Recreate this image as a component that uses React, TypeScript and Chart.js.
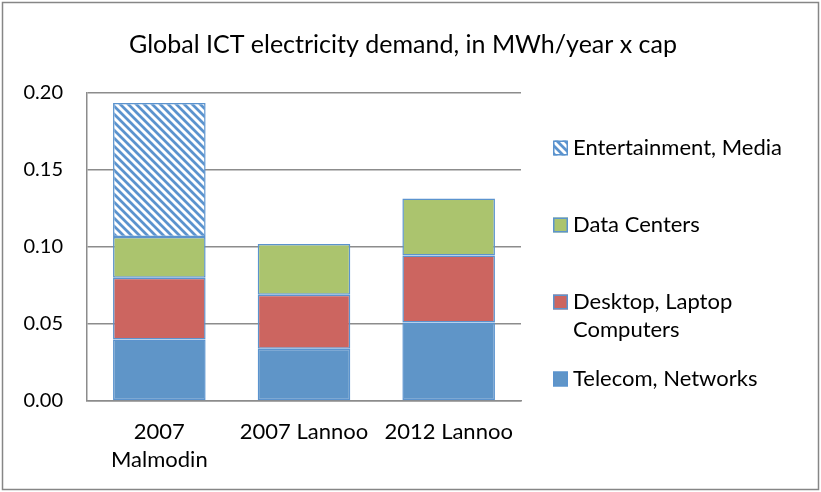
import { useEffect, useRef } from "react";
import { Chart, registerables } from "chart.js";

Chart.register(...registerables);

const titleText = "Global ICT electricity demand, in MWh/year x cap";
const categories: (string | string[])[] = [["2007", "Malmodin"], "2007 Lannoo", "2012 Lannoo"];
const telecomNetworks = [0.04, 0.034, 0.051];
const desktopLaptop = [0.04, 0.035, 0.0435];
const dataCenters = [0.0265, 0.033, 0.037];
const entertainmentMedia = [0.087, null, null];
const seriesLabels = [
  ["Telecom, Networks"],
  ["Desktop, Laptop", "Computers"],
  ["Data Centers"],
  ["Entertainment, Media"],
];
const yTickLabels = ["0.00", "0.05", "0.10", "0.15", "0.20"];

const FONT = "Lato, 'Open Sans', sans-serif";
const BLUE = "#5F95C8";
const RED = "#CC6560";
const GREEN = "#ABC46E";
const EDGE = "#5B93CE";
const GRID = "#8C8C8C";

function makeStripes(): CanvasPattern | string {
  const pc = document.createElement("canvas");
  pc.width = 8;
  pc.height = 8;
  const g = pc.getContext("2d");
  if (!g) return BLUE;
  g.fillStyle = "#ffffff";
  g.fillRect(0, 0, 8, 8);
  g.strokeStyle = EDGE;
  g.lineWidth = 2.8;
  g.beginPath();
  g.moveTo(-2, -2);
  g.lineTo(10, 10);
  g.moveTo(-2, 6);
  g.lineTo(2, 10);
  g.moveTo(6, -2);
  g.lineTo(10, 2);
  g.stroke();
  const p = g.createPattern(pc, "repeat");
  return p || BLUE;
}

export default function App() {
  const ref = useRef<HTMLCanvasElement | null>(null);

  useEffect(() => {
    document.body.style.margin = "0";
    const canvas = ref.current;
    if (!canvas) return;
    const stripes = makeStripes();

    const decor = {
      id: "decor",
      beforeDraw(chart: any) {
        const ctx = chart.ctx;
        ctx.save();
        ctx.fillStyle = "#ffffff";
        ctx.fillRect(0, 0, chart.width, chart.height);
        ctx.restore();
      },
      afterDraw(chart: any) {
        const ctx = chart.ctx;
        ctx.save();
        // outer border
        ctx.strokeStyle = "#868686";
        ctx.lineWidth = 1.5;
        ctx.strokeRect(2.5, 2.5, chart.width - 5, chart.height - 5);
        // title
        ctx.fillStyle = "#000";
        ctx.font = `25px ${FONT}`;
        ctx.textAlign = "center";
        ctx.textBaseline = "middle";
        ctx.fillText(titleText, 403, 45);
        // legend (reverse order, top to bottom)
        ctx.font = `22px ${FONT}`;
        ctx.textAlign = "left";
        const ds = chart.data.datasets;
        const x0 = chart.chartArea.right + 32;
        let y = 148;
        for (let i = ds.length - 1; i >= 0; i--) {
          const lines = seriesLabels[i];
          ctx.fillStyle = ds[i].backgroundColor;
          ctx.fillRect(x0, y - 7.5, 15, 15);
          ctx.strokeStyle = EDGE;
          ctx.lineWidth = 1.5;
          ctx.strokeRect(x0 + 0.75, y - 6.75, 13.5, 13.5);
          ctx.fillStyle = "#000";
          lines.forEach((t, k) => ctx.fillText(t, x0 + 20, y + k * 28));
          y += 77;
        }
        ctx.restore();
      },
    };

    const common = {
      borderColor: EDGE,
      borderWidth: 1.5,
      borderSkipped: false,
      barPercentage: 0.64,
      categoryPercentage: 1,
    };

    const chart = new Chart(canvas, {
      type: "bar",
      data: {
        labels: categories,
        datasets: [
          { label: seriesLabels[0].join(" "), data: telecomNetworks, backgroundColor: BLUE, ...common },
          { label: seriesLabels[1].join(" "), data: desktopLaptop, backgroundColor: RED, ...common },
          { label: seriesLabels[2].join(" "), data: dataCenters, backgroundColor: GREEN, ...common },
          { label: seriesLabels[3].join(" "), data: entertainmentMedia as any, backgroundColor: stripes as any, ...common },
        ],
      },
      options: {
        animation: false,
        responsive: false,
        events: [],
        layout: { padding: { top: 93, right: 300, left: 0, bottom: 0 } },
        plugins: {
          legend: { display: false },
          title: { display: false },
          tooltip: { enabled: false },
        },
        scales: {
          x: {
            stacked: true,
            grid: { display: false, drawTicks: false },
            border: { display: true, color: GRID, width: 1.5 },
            ticks: {
              color: "#000",
              padding: 17,
              maxRotation: 0,
              autoSkip: false,
              font: { family: FONT, size: 22, lineHeight: 1.27 },
            },
            afterFit(scale: any) {
              scale.height = 91;
            },
          },
          y: {
            stacked: true,
            min: 0,
            max: 0.2,
            ticks: {
              stepSize: 0.05,
              color: "#000",
              padding: 24,
              font: { family: FONT, size: 20 },
              callback: (_v: any, i: number) => yTickLabels[i],
            },
            grid: { color: GRID, lineWidth: 1.5, drawTicks: false },
            border: { display: true, color: GRID, width: 1.5 },
            afterFit(scale: any) {
              scale.width = 87;
            },
          },
        },
      },
      plugins: [decor],
    } as any);

    return () => chart.destroy();
  }, []);

  return (
    <div style={{ width: 821, height: 492 }}>
      <canvas ref={ref} width={821} height={492} style={{ display: "block" }} />
    </div>
  );
}
